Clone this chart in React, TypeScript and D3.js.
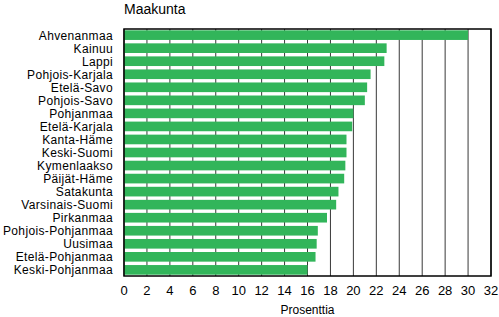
import React from "react";
import * as d3 from "d3";

const categories = [
  "Ahvenanmaa", "Kainuu", "Lappi", "Pohjois-Karjala", "Etelä-Savo", "Pohjois-Savo",
  "Pohjanmaa", "Etelä-Karjala", "Kanta-Häme", "Keski-Suomi", "Kymenlaakso", "Päijät-Häme",
  "Satakunta", "Varsinais-Suomi", "Pirkanmaa", "Pohjois-Pohjanmaa", "Uusimaa",
  "Etelä-Pohjanmaa", "Keski-Pohjanmaa",
];
const values = [
  30.0, 22.9, 22.7, 21.5, 21.2, 21.0, 20.0, 19.9, 19.4, 19.4, 19.3, 19.2,
  18.7, 18.5, 17.7, 16.9, 16.8, 16.7, 16.0,
];
const ticks = [0, 2, 4, 6, 8, 10, 12, 14, 16, 18, 20, 22, 24, 26, 28, 30, 32];
const title = "Maakunta";
const xTitle = "Prosenttia";

export default function App() {
  const W = 499, H = 317;
  const left = 124, right = 491, top = 29, bottom = 276;
  const x = d3.scaleLinear().domain([0, 32]).range([left, right]);
  const y = d3.scaleBand().domain(categories).range([top, bottom]).paddingInner(0.26).paddingOuter(0.1);
  const font = "'Liberation Sans', Arial, sans-serif";
  return (
    <svg width={W} height={H} style={{ position: "absolute", left: 0, top: 0 }} fontFamily={font}>
      <rect width={W} height={H} fill="#fff" />
      <text x={left} y={14} fontSize={14} fill="#000">{title}</text>
      {ticks.map((t) => (
        <line key={"g" + t} x1={x(t)} x2={x(t)} y1={top} y2={bottom} stroke="#383838" strokeWidth={1} />
      ))}
      {categories.map((c, i) => (
        <rect key={c} x={x(0)} y={y(c)} width={x(values[i]) - x(0)} height={y.bandwidth()} fill="#32b55a" />
      ))}
      <rect x={left} y={top} width={right - left} height={bottom - top} fill="none" stroke="#000" strokeWidth={1.5} />
      {categories.map((c) => (
        <text key={"l" + c} x={113} y={(y(c) as number) + y.bandwidth() / 2 + 4.5} fontSize={12} letterSpacing={0.35} textAnchor="end" fill="#000">{c}</text>
      ))}
      {ticks.map((t) => (
        <text key={"t" + t} x={x(t)} y={295} fontSize={13} textAnchor="middle" fill="#000">{t}</text>
      ))}
      <text x={(left + right) / 2} y={314} fontSize={12} textAnchor="middle" fill="#000">{xTitle}</text>
    </svg>
  );
}
